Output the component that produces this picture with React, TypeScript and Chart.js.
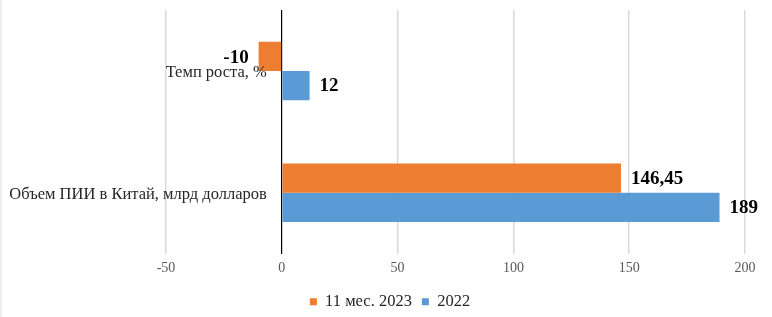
import React, { useEffect, useRef } from "react";
import { Chart, registerables } from "chart.js";

Chart.register(...registerables);

const categories = ["Темп роста, %", "Объем ПИИ в Китай, млрд долларов"];
const series2023 = [-10, 146.45];
const series2022 = [12, 189];
const seriesNames = ["11 мес. 2023", "2022"];
const xTicks = [-50, 0, 50, 100, 150, 200];

const SERIF = "'Liberation Serif', 'Times New Roman', serif";

const dataLabelPlugin = {
  id: "dataLabels",
  afterDatasetsDraw(chart: any) {
    const ctx = chart.ctx;
    ctx.save();
    ctx.font = `bold 19px ${SERIF}`;
    ctx.fillStyle = "#000";
    ctx.textBaseline = "middle";
    chart.data.datasets.forEach((ds: any, di: number) => {
      const meta = chart.getDatasetMeta(di);
      meta.data.forEach((el: any, i: number) => {
        const v = ds.data[i] as number;
        const txt = String(v).replace(".", ",");
        if (v < 0) {
          ctx.textAlign = "right";
          ctx.fillText(txt, el.x - 10, el.y + 2);
        } else {
          ctx.textAlign = "left";
          ctx.fillText(txt, el.x + 10, el.y + 1);
        }
      });
    });
    ctx.restore();
  },
};

const categoryLabelPlugin = {
  id: "categoryLabels",
  afterDraw(chart: any) {
    const ctx = chart.ctx;
    const xs = chart.scales.x;
    const ys = chart.scales.y;
    const x0 = xs.getPixelForValue(0);
    ctx.save();
    ctx.font = `16.5px ${SERIF}`;
    ctx.fillStyle = "#262626";
    ctx.textAlign = "right";
    ctx.textBaseline = "middle";
    chart.data.labels.forEach((lab: string, i: number) => {
      const y = ys.getPixelForTick(i);
      ctx.fillText(lab, x0 - 15, y + 2);
    });
    ctx.restore();
  },
};

export default function App() {
  const ref = useRef<HTMLCanvasElement>(null);
  useEffect(() => {
    document.body.style.margin = "0";
    const chart = new Chart(ref.current!, {
      type: "bar",
      data: {
        labels: categories,
        datasets: [
          {
            label: seriesNames[0],
            data: series2023,
            backgroundColor: "#ED7D31",
            categoryPercentage: 0.48,
            barPercentage: 1,
          },
          {
            label: seriesNames[1],
            data: series2022,
            backgroundColor: "#5B9BD5",
            categoryPercentage: 0.48,
            barPercentage: 1,
          },
        ],
      },
      options: {
        indexAxis: "y",
        animation: false,
        responsive: false,
        maintainAspectRatio: false,
        layout: { padding: { left: 33, right: 27, top: 10, bottom: -3 } },
        scales: {
          x: {
            min: -50,
            max: 200,
            afterBuildTicks: (axis: any) => {
              axis.ticks = xTicks.map((v) => ({ value: v }));
            },
            grid: {
              color: (c: any) => (c.tick && c.tick.value === 0 ? "#000000" : "#d9d9d9"),
              lineWidth: (c: any) => (c.tick && c.tick.value === 0 ? 1.2 : 1.5),
              drawTicks: false,
            },
            border: { display: false },
            ticks: {
              color: "#595959",
              font: { family: SERIF, size: 14, lineHeight: 0.7 },
              padding: 10,
            },
          },
          y: {
            position: "left",
            grid: { display: false, drawTicks: false },
            border: { display: false },
            ticks: { display: false },
            afterFit: (s: any) => {
              s.width = 131;
            },
          },
        },
        plugins: {
          legend: {
            position: "bottom",
            labels: {
              boxWidth: 7,
              boxHeight: 7,
              color: "#262626",
              font: { family: SERIF, size: 16.5 },
              padding: 10,
            },
          },
          tooltip: { enabled: false },
        },
      },
      plugins: [dataLabelPlugin, categoryLabelPlugin],
    });
    return () => chart.destroy();
  }, []);
  return (
    <div style={{ width: 772, height: 317, position: "relative", background: "#fff", borderLeft: "2px solid #eeeeee", boxSizing: "border-box" }}>
      <canvas ref={ref} width={770} height={317} style={{ display: "block" }} />
    </div>
  );
}
